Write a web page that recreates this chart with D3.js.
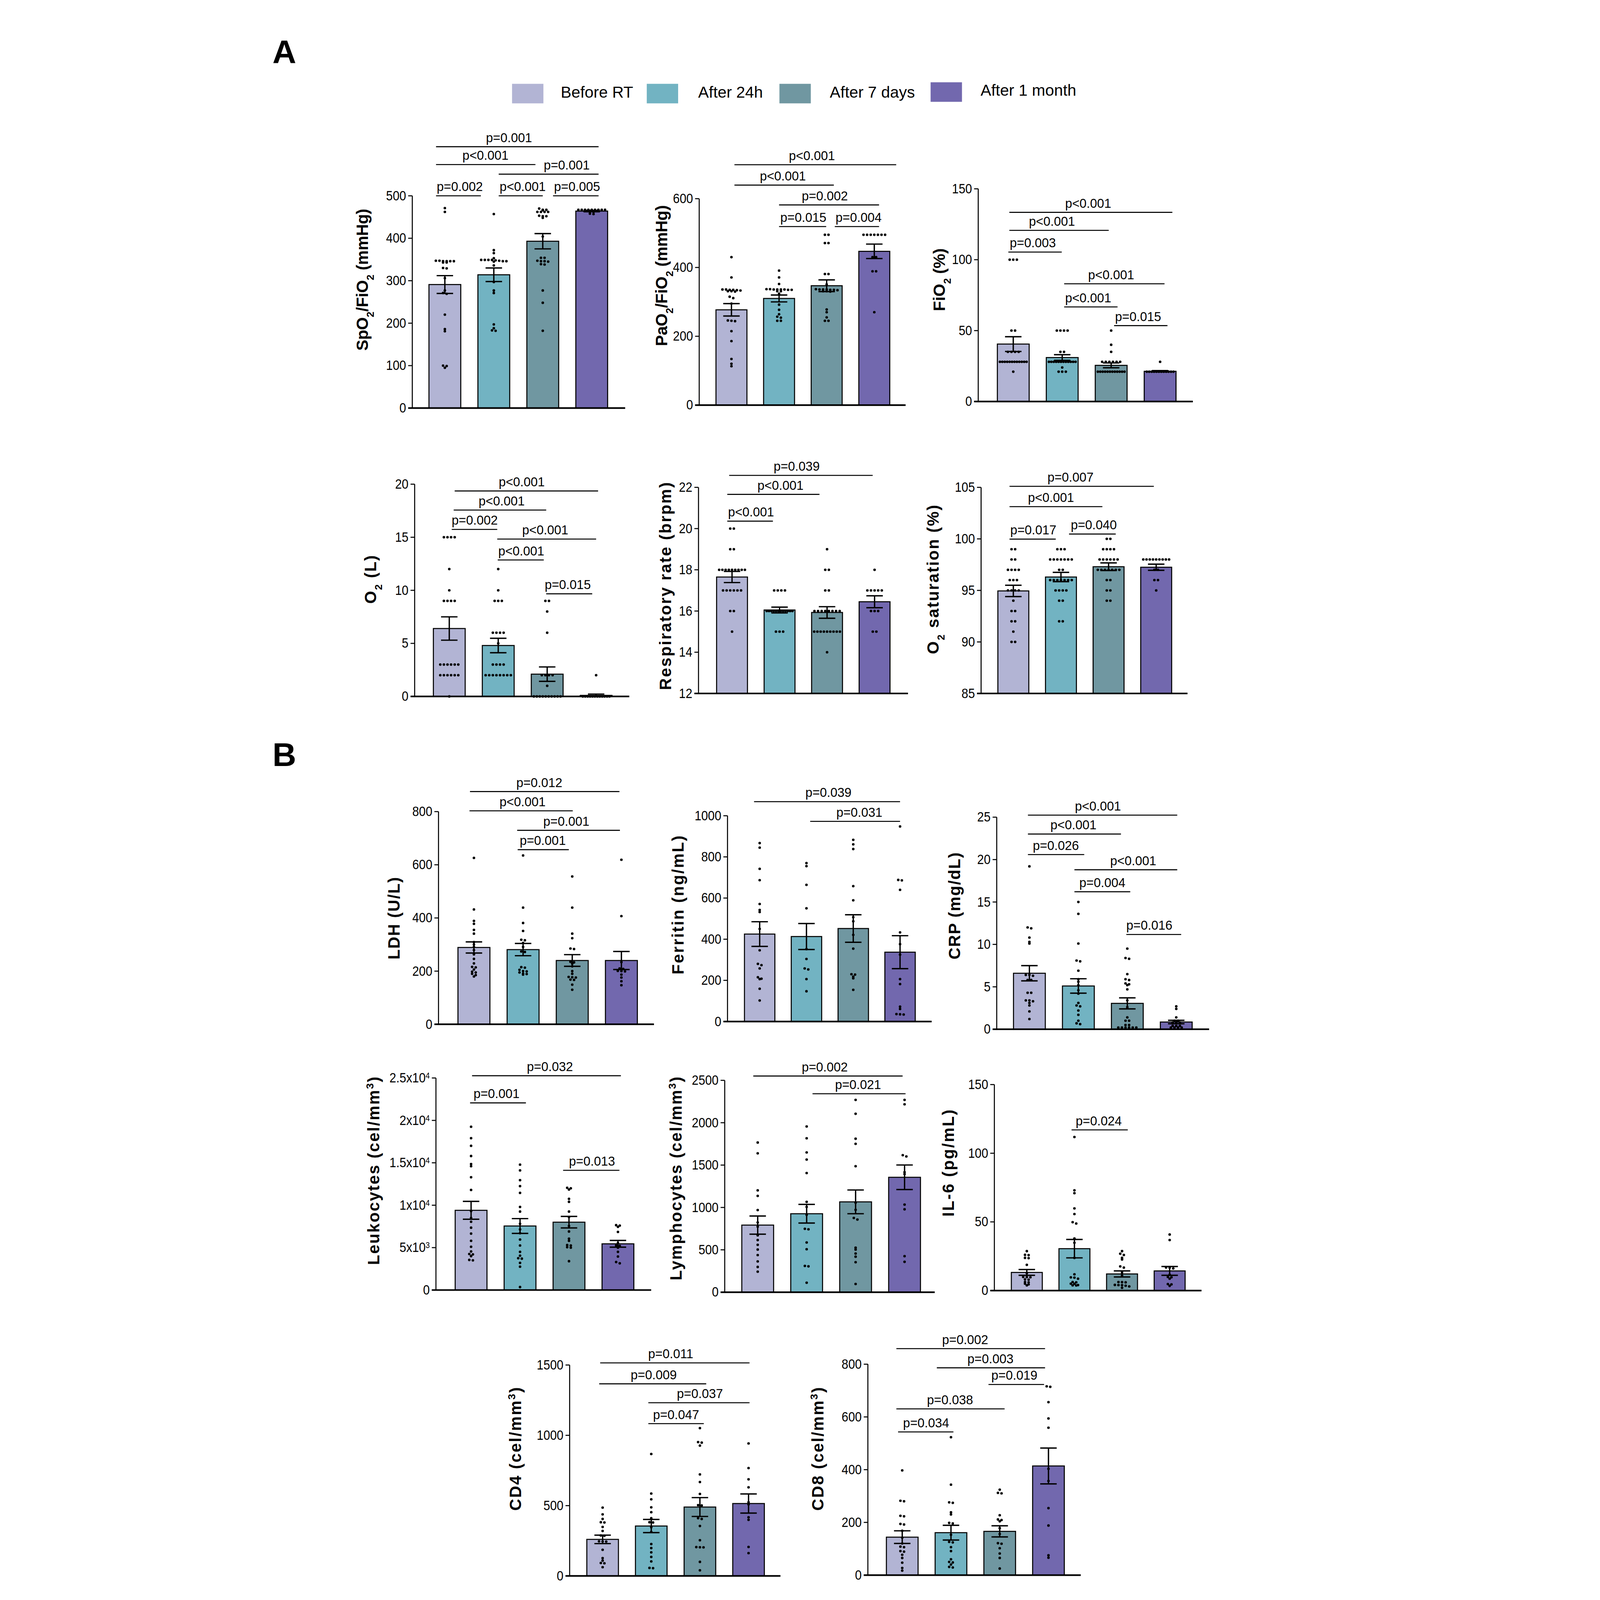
<!DOCTYPE html>
<html>
<head>
<meta charset="utf-8">
<script src="https://cdn.jsdelivr.net/npm/d3@7"></script>
<style>
  html, body { margin: 0; padding: 0; height: 100%; background: #fff; overflow: hidden; }
  svg { display: block; width: 100vw; height: 100vh; }
</style>
</head>
<body>
<svg id="fig"></svg>
<script>
// groups + colours
var groups = ["Before RT", "After 24h", "After 7 days", "After 1 month"];
var groupColors = ["#b2b4d4", "#72b3c2", "#7097a1", "#7268ae"];

// ---- A: SpO2/FiO2
var spo2Mean = [291, 314, 393, 464];
var spo2Sem = [21, 16, 18, 1.5];
var spo2Dots = [
  [471, 462, 346, 346, 346, 347, 347, 346, 343, 343, 330, 329, 306, 277, 271, 269, 220, 186, 181, 100, 99, 95],
  [457, 372, 365, 353, 349, 349, 349, 349, 348, 347, 346, 346, 345, 336, 297, 277, 271, 197, 188, 183, 182],
  [470, 467, 467, 466, 462, 462, 462, 462, 453, 452, 452, 448, 404, 354, 354, 347, 346, 346, 345, 339, 338, 277, 248, 182],
  [467, 467, 467, 467, 467, 467, 467, 467, 467, 462, 462, 458, 457]
];
var spo2Ticks = [0, 100, 200, 300, 400, 500];
var spo2P = ["p=0.002", "p<0.001", "p=0.005", "p=0.001", "p<0.001", "p=0.001"];

// ---- PaO2/FiO2
var pao2Mean = [277, 310, 347, 447];
var pao2Sem = [18, 10, 17, 21];
var pao2Dots = [
  [430, 371, 336, 336, 335, 335, 334, 333, 331, 331, 330, 315, 311, 295, 246, 245, 244, 215, 186, 134, 120, 113],
  [391, 371, 352, 337, 337, 336, 336, 336, 336, 335, 335, 331, 331, 324, 292, 277, 264, 257, 254, 245, 245],
  [495, 495, 471, 471, 381, 381, 351, 337, 336, 336, 336, 335, 335, 334, 331, 331, 330, 278, 270, 255, 245, 245],
  [495, 495, 495, 495, 495, 495, 495, 430, 430, 389, 389, 270]
];
var pao2Ticks = [0, 200, 400, 600];
var pao2P = ["p<0.001", "p<0.001", "p=0.002", "p=0.015", "p=0.004"];

// ---- FiO2
var fio2Mean = [40.5, 31, 25.5, 21.3];
var fio2Sem = [5.2, 2, 1.7, 0.5];
var fio2Dots = [
  [100, 100, 100, 50, 50, 35, 35, 35, 35, 28, 28, 28, 28, 28, 28, 28, 28, 28, 28, 28, 28, 21],
  [50, 50, 50, 50, 35, 35, 28, 28, 28, 28, 28, 28, 28, 28, 28, 28, 28, 28, 24, 21, 21, 21],
  [50, 40, 35, 28, 28, 28, 28, 28, 28, 21, 21, 21, 21, 21, 21, 21, 21, 21, 21, 21, 21],
  [28, 21, 21, 21, 21, 21, 21, 21, 21, 21, 21, 21, 21]
];
var fio2Ticks = [0, 50, 100, 150];
var fio2P = ["p<0.001", "p<0.001", "p=0.003", "p<0.001", "p<0.001", "p=0.015"];

// ---- O2 (L)
var o2lMean = [6.4, 4.8, 2.1, 0.1];
var o2lSem = [1.1, 0.68, 0.68, 0.12];
var o2lDots = [
  [15, 15, 15, 15, 12, 10, 9, 9, 9, 9, 3, 3, 3, 3, 3, 3, 2, 2, 2, 2, 2, 2, 0],
  [12, 10, 9, 9, 9, 6, 6, 6, 6, 5, 3, 3, 3, 3, 2, 2, 2, 2, 2, 2, 2, 2],
  [9, 9, 8, 6, 2, 2, 2, 2, 1, 0, 0, 0, 0, 0, 0, 0, 0, 0, 0],
  [2, 0, 0, 0, 0, 0, 0, 0, 0, 0, 0, 0, 0]
];
var o2lTicks = [0, 5, 10, 15, 20];
var o2lP = ["p<0.001", "p<0.001", "p=0.002", "p<0.001", "p<0.001", "p=0.015"];

// ---- Respiratory rate
var respMean = [17.65, 16.05, 15.93, 16.45];
var respSem = [0.27, 0.14, 0.28, 0.29];
var respDots = [
  [20, 20, 19, 19, 18, 18, 18, 18, 18, 18, 18, 18, 18, 17, 17, 17, 17, 17, 17, 16, 16, 15],
  [17, 17, 17, 17, 16, 16, 16, 16, 16, 16, 16, 16, 16, 16, 16, 16, 15, 15, 15],
  [19, 18, 18, 17, 17, 16, 16, 16, 16, 16, 16, 16, 16, 15, 15, 15, 15, 15, 15, 15, 15, 15, 14],
  [18, 17, 17, 17, 17, 17, 16, 16, 16, 15, 15]
];
var respTicks = [12, 14, 16, 18, 20, 22];
var respP = ["p=0.039", "p<0.001", "p<0.001"];

// ---- O2 saturation
var satMean = [94.95, 96.3, 97.3, 97.25];
var satSem = [0.55, 0.45, 0.37, 0.3];
var satDots = [
  [99, 99, 98, 98, 97, 97, 97, 97, 96, 96, 96, 95, 95, 95, 95, 94, 93, 93, 92, 92, 91, 90, 90],
  [99, 99, 99, 98, 98, 98, 98, 98, 98, 98, 97, 97, 96, 96, 96, 96, 96, 96, 96, 95, 95, 95, 95, 94, 94, 92, 92],
  [100, 100, 99, 99, 99, 99, 98, 98, 98, 98, 98, 98, 97, 97, 97, 97, 97, 97, 97, 96, 96, 95, 95, 94, 94],
  [98, 98, 98, 98, 98, 98, 98, 98, 98, 97, 97, 96, 96, 95]
];
var satTicks = [85, 90, 95, 100, 105];
var satP = ["p=0.007", "p<0.001", "p=0.017", "p=0.040"];

// ---- B: LDH
var ldhMean = [289, 281, 240, 240];
var ldhSem = [21, 23, 22, 34];
var ldhDots = [
  [626, 432, 389, 378, 355, 341, 309, 300, 291, 279, 263, 246, 229, 216, 214, 206, 198, 195, 190, 185, 180],
  [635, 439, 381, 351, 318, 316, 306, 291, 274, 272, 215, 213, 205, 200, 199, 195, 191, 189, 187],
  [556, 439, 341, 324, 285, 283, 235, 233, 228, 218, 200, 190, 178, 177, 176, 168, 167, 149, 130],
  [619, 407, 234, 210, 208, 201, 200, 199, 187, 176, 162, 147]
];
var ldhTicks = [0, 200, 400, 600, 800];
var ldhP = ["p=0.012", "p<0.001", "p=0.001", "p=0.001"];

// ---- Ferritin
var ferMean = [425, 413, 452, 337];
var ferSem = [60, 63, 67, 80];
var ferDots = [
  [867, 845, 742, 687, 571, 542, 532, 450, 346, 280, 274, 258, 215, 208, 206, 159, 102],
  [770, 755, 664, 550, 352, 304, 258, 253, 206, 147],
  [883, 861, 838, 658, 589, 507, 487, 421, 354, 230, 228, 218, 210, 154],
  [948, 688, 686, 640, 433, 376, 325, 206, 182, 72, 61, 36, 35, 34]
];
var ferTicks = [0, 200, 400, 600, 800, 1000];
var ferP = ["p=0.039", "p=0.031"];

// ---- CRP
var crpMean = [6.6, 5.1, 3.05, 0.85];
var crpSem = [0.9, 0.85, 0.65, 0.2];
var crpDots = [
  [19.2, 12.0, 11.9, 10.8, 10.3, 10.1, 6.4, 6.4, 6.3, 5.8, 5.8, 4.3, 4.3, 3.4, 3.4, 3.3, 3.1, 2.8, 2.1, 1.2],
  [15.0, 13.6, 10.1, 8.1, 8.0, 6.9, 5.9, 5.6, 5.2, 4.6, 4.2, 3.1, 2.8, 2.7, 2.2, 1.7, 1.0, 0.7, 0.6],
  [9.5, 8.4, 8.3, 6.5, 5.9, 5.8, 5.4, 5.3, 5.2, 4.7, 3.4, 2.6, 1.4, 1.0, 1.0, 0.5, 0.5, 0.2, 0.2, 0.2, 0.2, 0.2, 0.2],
  [2.7, 2.4, 1.4, 1.0, 1.0, 0.8, 0.8, 0.8, 0.4, 0.4, 0.4, 0.2, 0.2, 0.2, 0.2]
];
var crpTicks = [0, 5, 10, 15, 20, 25];
var crpP = ["p<0.001", "p<0.001", "p=0.026", "p<0.001", "p=0.004", "p=0.016"];

// ---- Leukocytes
var leuMean = [9400, 7550, 8000, 5450];
var leuSem = [1050, 870, 680, 400];
var leuDots = [
  [19250, 17900, 17000, 15800, 14850, 14600, 13300, 11800, 9300, 8500, 8050, 7350, 6650, 5800, 5100, 4550, 4250, 4200, 4000, 3550, 3500],
  [14780, 14100, 12950, 12250, 11450, 9800, 9250, 7800, 7150, 6700, 5950, 5250, 4500, 4050, 3750, 3700, 3200, 2750, 350],
  [12050, 12000, 11850, 10750, 10400, 9250, 8600, 7550, 6900, 6050, 5800, 5300, 5250, 5050, 5000, 3400],
  [7650, 7600, 7450, 6850, 5550, 5250, 5200, 5000, 4500, 3950, 3300, 3150]
];
var leuTicks = [0, 5000, 10000, 15000, 20000, 25000];
var leuTickLabels = [["0", ""], ["5x10", "3"], ["1x10", "4"], ["1.5x10", "4"], ["2x10", "4"], ["2.5x10", "4"]];
var leuP = ["p=0.032", "p=0.001", "p=0.013"];

// ---- Lymphocytes
var lymMean = [792, 926, 1066, 1356];
var lymSem = [107, 110, 140, 145];
var lymDots = [
  [1766, 1639, 1202, 1136, 969, 823, 773, 671, 615, 559, 503, 438, 363, 298, 242],
  [1956, 1816, 1649, 1565, 1406, 1066, 1006, 913, 748, 742, 587, 507, 310, 305, 112],
  [2269, 2105, 1811, 1751, 1487, 1056, 972, 876, 857, 525, 503, 456, 419, 354, 97],
  [2269, 2217, 1617, 1602, 1416, 1393, 1034, 978, 425, 358]
];
var lymTicks = [0, 500, 1000, 1500, 2000, 2500];
var lymP = ["p=0.002", "p=0.021"];

// ---- IL-6
var il6Mean = [13.2, 30.5, 12.1, 14.3];
var il6Sem = [2.1, 6.7, 2.2, 3.2];
var il6Dots = [
  [28.7, 26.0, 25.8, 23.8, 23.6, 18.7, 12.6, 9.9, 9.8, 9.7, 8.1, 7.9, 6.2, 6.0, 5.0, 4.5, 3.8],
  [111.8, 73.0, 70.9, 59.8, 55.7, 49.8, 48.8, 37.9, 34.8, 23.8, 11.8, 9.6, 9.4, 8.6, 6.2, 6.0, 5.0, 4.9, 4.0, 3.8, 3.7],
  [28.7, 26.8, 25.9, 23.8, 22.6, 17.6, 16.7, 13.2, 10.9, 6.2, 6.1, 6.0, 4.1, 4.0, 3.9, 3.5, 3.0, 2.0],
  [40.8, 36.8, 16.8, 16.6, 16.1, 11.5, 9.9, 9.7, 8.6, 4.7, 4.5, 3.4]
];
var il6Ticks = [0, 50, 100, 150];
var il6P = ["p=0.024"];

// ---- CD4
var cd4Mean = [260, 355, 490, 515];
var cd4Sem = [30, 47, 67, 68];
var cd4Dots = [
  [486, 438, 405, 382, 380, 348, 320, 288, 286, 246, 245, 244, 186, 127, 109, 92, 90, 62],
  [867, 586, 545, 488, 453, 411, 382, 380, 346, 313, 227, 198, 168, 135, 103, 57, 55],
  [1051, 952, 948, 927, 722, 668, 583, 503, 501, 411, 405, 355, 254, 205, 204, 203, 100, 40],
  [942, 767, 687, 630, 524, 509, 417, 399, 206, 162]
];
var cd4Ticks = [0, 500, 1000, 1500];
var cd4P = ["p=0.011", "p=0.009", "p=0.037", "p=0.047"];

// ---- CD8
var cd8Mean = [144, 161, 166, 414];
var cd8Sem = [24, 28, 21, 68];
var cd8Dots = [
  [397, 282, 280, 225, 223, 194, 192, 168, 142, 120, 108, 106, 91, 89, 77, 65, 47, 27, 17],
  [523, 343, 276, 274, 238, 230, 198, 196, 153, 126, 124, 106, 91, 60, 50, 48, 40, 31, 29],
  [324, 312, 310, 227, 211, 209, 204, 178, 156, 121, 119, 102, 82, 65, 25],
  [716, 714, 656, 594, 559, 403, 357, 254, 188, 75, 66]
];
var cd8Ticks = [0, 200, 400, 600, 800];
var cd8P = ["p=0.002", "p=0.003", "p=0.019", "p=0.038", "p=0.034"];

// axis titles, pieces: [text, "sub"/"sup"/undefined]
var mm3 = [[" (cel/mm"], ["3", "sup"], [")"]];

// layout of every panel (display units, viewBox is 1100 wide)
// br: [start group, end group, y value of line, label centre group]
var panels = [
  { mean: spo2Mean, sem: spo2Sem, dots: spo2Dots, ticks: spo2Ticks, p: spo2P, domain: [0, 500],
    x0: 173, bx: 189.2, step: 47.6, xEnd: 380, yBot: 396.8, yTop: 190.4,
    title: [["SpO"], ["2", "sub"], ["/FiO"], ["2", "sub"], [" (mmHg)"]], tx: 124, ty: 272, tlen: 138,
    br: [[-0.18, 0.735, 500, 0.305], [1.10, 2.0, 500, 1.59], [2.21, 3.14, 500, 2.70],
         [1.10, 3.14, 551, 2.49], [-0.18, 1.85, 573.6, 0.83], [-0.18, 3.14, 615.6, 1.31]] },
  { mean: pao2Mean, sem: pao2Sem, dots: pao2Dots, ticks: pao2Ticks, p: pao2P, domain: [0, 600],
    x0: 452, bx: 468.3, step: 46.3, xEnd: 652.7, yBot: 393.9, yTop: 193.2,
    title: [["PaO"], ["2", "sub"], ["/FiO"], ["2", "sub"], [" (mmHg)"]], tx: 415, ty: 268, tlen: 137,
    br: [[0.063, 3.46, 698.7, 1.69], [0.063, 2.15, 639.5, 1.08], [1.0, 3.10, 581.8, 1.96],
         [1.0, 1.99, 519, 1.51], [2.17, 3.10, 519, 2.67]] },
  { mean: fio2Mean, sem: fio2Sem, dots: fio2Dots, ticks: fio2Ticks, p: fio2P, domain: [0, 150],
    x0: 723.3, bx: 741.9, step: 47.6, xEnd: 932, yBot: 390.4, yTop: 183.6,
    title: [["FiO"], ["2", "sub"], [" (%)"]], tx: 685, ty: 272, tlen: 61,
    br: [[-0.08, 3.25, 133.4, 1.53], [-0.08, 1.95, 120.7, 0.79], [-0.10, 0.99, 105.4, 0.40],
         [1.04, 3.09, 83, 2.0], [1.04, 2.13, 66.7, 1.53], [2.06, 3.15, 53.5, 2.55]] },
  { mean: o2lMean, sem: o2lSem, dots: o2lDots, ticks: o2lTicks, p: o2lP, domain: [0, 20],
    x0: 175.3, bx: 193.5, step: 47.6, xEnd: 384, yBot: 677.2, yTop: 470.8,
    title: [["O"], ["2", "sub"], [" (L)"]], tx: 132, ty: 563.5, tlen: 47,
    br: [[0.11, 3.04, 19.36, 1.48], [0.09, 1.98, 17.56, 1.07], [0.05, 0.98, 15.74, 0.52],
         [0.98, 3.0, 14.83, 1.96], [0.99, 1.93, 12.86, 1.47], [1.98, 2.92, 9.67, 2.42]] },
  { mean: respMean, sem: respSem, dots: respDots, ticks: respTicks, p: respP, domain: [12, 22],
    x0: 451.3, bx: 468.9, step: 46.2, xEnd: 655, yBot: 674.3, yTop: 473.9,
    title: [["Respiratory rate (brpm)"]], tx: 419, ty: 570, tlen: 202,
    br: [[-0.06, 2.96, 22.58, 1.36], [-0.10, 1.84, 21.66, 1.02], [-0.10, 0.86, 20.36, 0.40]] },
  { mean: satMean, sem: satSem, dots: satDots, ticks: satTicks, p: satP, domain: [85, 105],
    x0: 726.1, bx: 742.4, step: 46.3, xEnd: 926.8, yBot: 674.3, yTop: 473.9,
    title: [["O"], ["2", "sub"], [" saturation (%)"]], tx: 679, ty: 563.5, tlen: 145,
    br: [[-0.08, 2.95, 105.1, 1.20], [-0.08, 1.87, 103.13, 0.79], [-0.08, 0.89, 99.98, 0.42],
         [1.17, 2.15, 100.47, 1.69]] },
  { mean: ldhMean, sem: ldhSem, dots: ldhDots, ticks: ldhTicks, p: ldhP, domain: [0, 800],
    x0: 198.5, bx: 217.4, step: 47.8, xEnd: 408, yBot: 996, yTop: 789.2,
    title: [["LDH (U/L)"]], tx: 155, ty: 893, tlen: 80,
    br: [[-0.08, 2.96, 875.4, 1.33], [-0.09, 2.01, 803, 0.99], [0.88, 2.97, 729.6, 1.88],
         [0.89, 1.93, 656.9, 1.40]] },
  { mean: ferMean, sem: ferSem, dots: ferDots, ticks: ferTicks, p: ferP, domain: [0, 1000],
    x0: 479.5, bx: 496, step: 45.5, xEnd: 678, yBot: 993.3, yTop: 793.2,
    title: [["Ferritin (ng/mL)"]], tx: 431, ty: 880, tlen: 135,
    br: [[-0.12, 3.0, 1068.5, 1.47], [1.08, 3.0, 972.5, 2.13]] },
  { mean: crpMean, sem: crpSem, dots: crpDots, ticks: crpTicks, p: crpP, domain: [0, 25],
    x0: 741.3, bx: 757.6, step: 47.6, xEnd: 947.8, yBot: 1000.8, yTop: 794.6,
    title: [["CRP (mg/dL)"]], tx: 700, ty: 881, tlen: 104,
    br: [[-0.03, 3.02, 25.24, 1.40], [-0.03, 1.87, 23.01, 0.90], [-0.03, 1.12, 20.59, 0.54],
         [0.92, 3.02, 18.8, 2.12], [0.92, 2.06, 16.21, 1.49], [1.98, 3.10, 11.17, 2.45]] },
  { mean: leuMean, sem: leuSem, dots: leuDots, ticks: leuTicks, p: leuP, domain: [0, 25000],
    tickLabels: leuTickLabels,
    x0: 196, bx: 214.7, step: 47.6, xEnd: 405.3, yBot: 1254.4, yTop: 1048.2,
    title: [["Leukocytes"]].concat(mm3), tx: 135, ty: 1138.5, tlen: 183,
    br: [[0.02, 3.06, 25267, 1.61], [-0.02, 1.12, 22066, 0.52], [1.88, 3.03, 14112, 2.47]] },
  { mean: lymMean, sem: lymSem, dots: lymDots, ticks: lymTicks, p: lymP, domain: [0, 2500],
    x0: 476.8, bx: 493.4, step: 47.6, xEnd: 681, yBot: 1256.5, yTop: 1050.5,
    title: [["Lymphocytes"]].concat(mm3), tx: 429, ty: 1146, tlen: 198,
    br: [[-0.09, 2.96, 2551, 1.37], [1.12, 3.02, 2342, 2.05]] },
  { mean: il6Mean, sem: il6Sem, dots: il6Dots, ticks: il6Ticks, p: il6P, domain: [0, 150],
    x0: 739, bx: 755.5, step: 46.3, xEnd: 940.4, yBot: 1254.9, yTop: 1054.6,
    title: [["IL-6 (pg/mL)"]], tx: 694, ty: 1131, tlen: 104,
    br: [[0.94, 2.12, 117, 1.51]] },
  { mean: cd4Mean, sem: cd4Sem, dots: cd4Dots, ticks: cd4Ticks, p: cd4P, domain: [0, 1500],
    x0: 326, bx: 342.7, step: 47.3, xEnd: 531, yBot: 1532.4, yTop: 1327.3,
    title: [["CD4"]].concat(mm3), tx: 273, ty: 1409, tlen: 120,
    br: [[-0.05, 3.02, 1515, 1.4], [-0.07, 2.13, 1366, 1.05], [0.94, 3.02, 1231.6, 2.0],
         [0.94, 2.08, 1083, 1.51]] },
  { mean: cd8Mean, sem: cd8Sem, dots: cd8Dots, ticks: cd8Ticks, p: cd8P, domain: [0, 800],
    x0: 616, bx: 634, step: 47.4, xEnd: 823, yBot: 1531.6, yTop: 1326.5,
    title: [["CD8"]].concat(mm3), tx: 567, ty: 1409, tlen: 120,
    br: [[-0.12, 2.93, 859, 1.29], [0.71, 2.93, 786.3, 1.81], [1.77, 2.91, 723, 2.3],
         [-0.12, 2.1, 630.4, 0.98], [-0.085, 1.05, 543, 0.49]] }
];

var font = "'Liberation Sans', Arial, sans-serif";
var tickScale = 0.86;   // tick labels are a narrow face in the original

var svg = d3.select("#fig")
  .attr("viewBox", "0 0 1100 1555.8")
  .attr("preserveAspectRatio", "xMidYMin meet")
  .style("font-family", font);

svg.append("rect").attr("width", 1100).attr("height", 1556).attr("fill", "#fff");

// dots sharing (almost) the same value are put side by side
function layoutDots(vals, y, cx, bw) {
  var pts = vals.map(function(v) { return { v: v, py: y(v) }; })
                .sort(function(a, b) { return a.py - b.py; });
  var rows = [];
  pts.forEach(function(p) {
    var row = rows[rows.length - 1];
    if (row && p.py - row[0].py < 1.6) { row.push(p); }
    else { rows.push([p]); }
  });
  rows.forEach(function(row) {
    var n = row.length;
    var sp = n > 1 ? Math.min(3.5, (bw - 5) / (n - 1)) : 0;
    row.forEach(function(p, k) { p.px = cx + (k - (n - 1) / 2) * sp; });
  });
  return pts;
}

function drawPanel(c) {
  var g = svg.append("g");
  var x = d3.scaleBand().domain(groups)
            .range([c.bx, c.bx + 3.65 * c.step])
            .paddingInner(0.35).paddingOuter(0);
  var bw = x.bandwidth();
  var y = d3.scaleLinear().domain(c.domain).range([c.yBot, c.yTop]);
  var gx = d3.scaleLinear().domain([0, 3])
             .range([x(groups[0]) + bw / 2, x(groups[3]) + bw / 2]);

  // bars
  g.selectAll(".bar")
   .data(groups)
   .enter()
   .append("rect")
   .attr("class", "bar")
   .attr("x", function(d) { return x(d); })
   .attr("y", function(d, i) { return y(c.mean[i]); })
   .attr("width", bw)
   .attr("height", function(d, i) { return y(c.domain[0]) - y(c.mean[i]); })
   .style("fill", function(d, i) { return groupColors[i]; })
   .style("stroke", "#000")
   .style("stroke-width", 1);

  // individual points
  groups.forEach(function(grp, i) {
    var pts = layoutDots(c.dots[i], y, x(grp) + bw / 2, bw);
    g.append("g").selectAll("circle")
     .data(pts)
     .enter()
     .append("circle")
     .attr("cx", function(d) { return d.px; })
     .attr("cy", function(d) { return d.py; })
     .attr("r", 1.25)
     .style("fill", "#000");
  });

  // mean +/- SEM
  var eb = g.selectAll(".err")
            .data(groups)
            .enter()
            .append("g")
            .attr("class", "err")
            .style("stroke", "#000")
            .style("stroke-width", 1.3);
  eb.append("line")
    .attr("x1", function(d) { return x(d) + bw / 2; })
    .attr("x2", function(d) { return x(d) + bw / 2; })
    .attr("y1", function(d, i) { return y(c.mean[i] - c.sem[i]); })
    .attr("y2", function(d, i) { return y(c.mean[i] + c.sem[i]); });
  [-1, 1].forEach(function(s) {
    eb.append("line")
      .attr("x1", function(d) { return x(d) + bw / 2 - 8; })
      .attr("x2", function(d) { return x(d) + bw / 2 + 8; })
      .attr("y1", function(d, i) { return y(c.mean[i] + s * c.sem[i]); })
      .attr("y2", function(d, i) { return y(c.mean[i] + s * c.sem[i]); });
  });

  // y axis
  var ax = g.append("g")
            .attr("transform", "translate(" + c.x0 + ",0)")
            .call(d3.axisLeft(y).tickValues(c.ticks).tickFormat(function(d) { return String(d); })
                    .tickSize(4).tickSizeOuter(0).tickPadding(2).offset(0));
  ax.select(".domain").style("stroke-width", 1);
  ax.selectAll(".tick line").style("stroke-width", 1);
  ax.selectAll(".tick text")
    .attr("x", -6 / tickScale)
    .attr("transform", "scale(" + tickScale + ",1)")
    .style("font-family", font)
    .style("font-size", "13.6px")
    .style("fill", "#000");
  if (c.tickLabels) {
    ax.selectAll(".tick text").each(function(d, i) {
      var t = d3.select(this).text("");
      t.append("tspan").text(c.tickLabels[i][0]);
      if (c.tickLabels[i][1]) {
        t.append("tspan").attr("dy", "-0.45em").style("font-size", "8.5px").text(c.tickLabels[i][1]);
      }
    });
  }

  // x axis line
  g.append("line")
   .attr("x1", c.x0 - 4).attr("x2", c.xEnd)
   .attr("y1", y(c.domain[0])).attr("y2", y(c.domain[0]))
   .style("stroke", "#000")
   .style("stroke-width", 1.6);

  // axis title
  var t = g.append("text")
           .attr("transform", "translate(" + (c.tx + 5.8) + "," + c.ty + ") rotate(-90)")
           .attr("text-anchor", "middle")
           .attr("textLength", c.tlen)
           .attr("lengthAdjust", "spacing")
           .style("font-weight", "bold")
           .style("font-size", "16px");
  c.title.forEach(function(piece) {
    var ts = t.append("tspan").text(piece[0]);
    if (piece[1] === "sub") { ts.attr("baseline-shift", "sub").style("font-size", "10px"); }
    if (piece[1] === "sup") { ts.attr("baseline-shift", "super").style("font-size", "10px"); }
  });

  // comparison lines and p values
  g.selectAll(".brl")
   .data(c.br)
   .enter()
   .append("line")
   .attr("class", "brl")
   .attr("x1", function(d) { return gx(d[0]); })
   .attr("x2", function(d) { return gx(d[1]); })
   .attr("y1", function(d) { return y(d[2]); })
   .attr("y2", function(d) { return y(d[2]); })
   .style("stroke", "#000")
   .style("stroke-width", 1);
  g.selectAll(".brt")
   .data(c.br)
   .enter()
   .append("text")
   .attr("class", "brt")
   .attr("x", function(d) { return gx(d[3]); })
   .attr("y", function(d) { return y(d[2]) - 4.5; })
   .attr("text-anchor", "middle")
   .style("font-size", "12.3px")
   .text(function(d, i) { return c.p[i]; });
}

panels.forEach(drawPanel);

// legend
var legBox = [270, 401, 530, 677];
var legText = [317.4, 451, 579, 725.6];
var leg = svg.append("g").selectAll("g")
  .data(groups)
  .enter()
  .append("g");
leg.append("rect")
   .attr("x", function(d, i) { return legBox[i]; })
   .attr("y", function(d, i) { return i === 3 ? 80 : 81.5; })
   .attr("width", 30.5)
   .attr("height", 19)
   .style("fill", function(d, i) { return groupColors[i]; });
leg.append("text")
   .attr("x", function(d, i) { return legText[i]; })
   .attr("y", function(d, i) { return i === 3 ? 93 : 95; })
   .style("font-size", "15.5px")
   .text(function(d) { return d; });

// panel letters
svg.append("text").attr("x", 37).attr("y", 61.5)
   .style("font-weight", "bold").style("font-size", "32px").text("A");
svg.append("text").attr("x", 37).attr("y", 745)
   .style("font-weight", "bold").style("font-size", "32px").text("B");
</script>
</body>
</html>
